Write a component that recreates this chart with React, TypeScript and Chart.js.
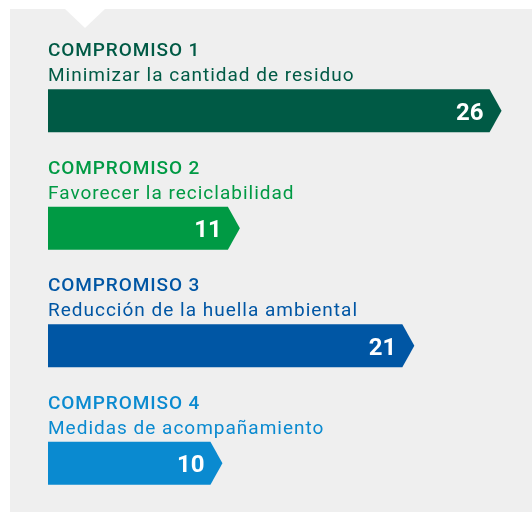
import React, { useEffect, useRef } from 'react';
import { Chart, registerables } from 'chart.js';
Chart.register(...registerables);

const categories = ['COMPROMISO 1', 'COMPROMISO 2', 'COMPROMISO 3', 'COMPROMISO 4'];
const subtitles = [
  'Minimizar la cantidad de residuo',
  'Favorecer la reciclabilidad',
  'Reducción de la huella ambiental',
  'Medidas de acompañamiento',
];
const values = [26, 11, 21, 10];
const colors = ['#005a45', '#009a44', '#0056a4', '#0a8ad0'];

const FONT = 'Roboto, "DejaVu Sans", sans-serif';

export default function App() {
  const ref = useRef<HTMLCanvasElement>(null);
  useEffect(() => {
    const canvas = ref.current!;
    const bg = {
      id: 'bg',
      beforeDraw(chart: any) {
        const ctx = chart.ctx;
        ctx.save();
        ctx.fillStyle = '#ffffff';
        ctx.fillRect(0, 0, chart.width, chart.height);
        ctx.fillStyle = '#efefef';
        ctx.fillRect(10, 9, chart.width - 10, chart.height - 9);
        ctx.fillStyle = '#ffffff';
        ctx.beginPath();
        ctx.moveTo(65, 9);
        ctx.lineTo(105, 9);
        ctx.lineTo(85, 28);
        ctx.closePath();
        ctx.fill();
        ctx.restore();
      },
    };
    const arrows = {
      id: 'arrows',
      afterDatasetsDraw(chart: any) {
        const ctx = chart.ctx;
        const meta = chart.getDatasetMeta(0);
        ctx.save();
        meta.data.forEach((el: any, i: number) => {
          const { x, y, base, height } = el.getProps(['x', 'y', 'base', 'height'], true);
          const top = y - height / 2;
          const bot = y + height / 2;
          const notch = 12;
          ctx.fillStyle = colors[i];
          ctx.beginPath();
          ctx.moveTo(base, top);
          ctx.lineTo(x - notch, top);
          ctx.lineTo(x, y);
          ctx.lineTo(x - notch, bot);
          ctx.lineTo(base, bot);
          ctx.closePath();
          ctx.fill();
          (ctx as any).letterSpacing = '0px';
          ctx.fillStyle = '#ffffff';
          ctx.font = `bold 24px ${FONT}`;
          ctx.textAlign = 'right';
          ctx.textBaseline = 'alphabetic';
          ctx.fillText(String(values[i]), x - notch - 6, y + 9);
          ctx.fillStyle = colors[i];
          ctx.textAlign = 'left';
          (ctx as any).letterSpacing = '0.9px';
          ctx.font = `500 19px ${FONT}`;
          ctx.fillText(chart.data.labels[i], base, top - 33);
          (ctx as any).letterSpacing = '1px';
          ctx.font = `400 19px ${FONT}`;
          ctx.fillText(subtitles[i], base, top - 8);
        });
        ctx.restore();
      },
    };
    const chart = new Chart(canvas, {
      type: 'bar',
      data: {
        labels: categories,
        datasets: [
          {
            data: values,
            backgroundColor: 'rgba(0,0,0,0)',
            borderWidth: 0,
            barThickness: 43,
          },
        ],
      },
      options: {
        indexAxis: 'y',
        responsive: false,
        animation: false,
        layout: { padding: { left: 48, right: 13, top: 52, bottom: 0 } },
        scales: {
          x: { type: 'linear', min: 0, max: 27, display: false },
          y: { type: 'category', display: false },
        },
        plugins: { legend: { display: false }, tooltip: { enabled: false } },
      },
      plugins: [bg, arrows],
    });
    return () => chart.destroy();
  }, []);
  return (
    <div style={{ position: 'fixed', left: 0, top: 0, width: 532, height: 512, overflow: 'hidden', background: '#fff' }}>
      <canvas ref={ref} width={532} height={522} style={{ position: 'absolute', left: 0, top: 0, width: 532, height: 522 }} />
    </div>
  );
}
